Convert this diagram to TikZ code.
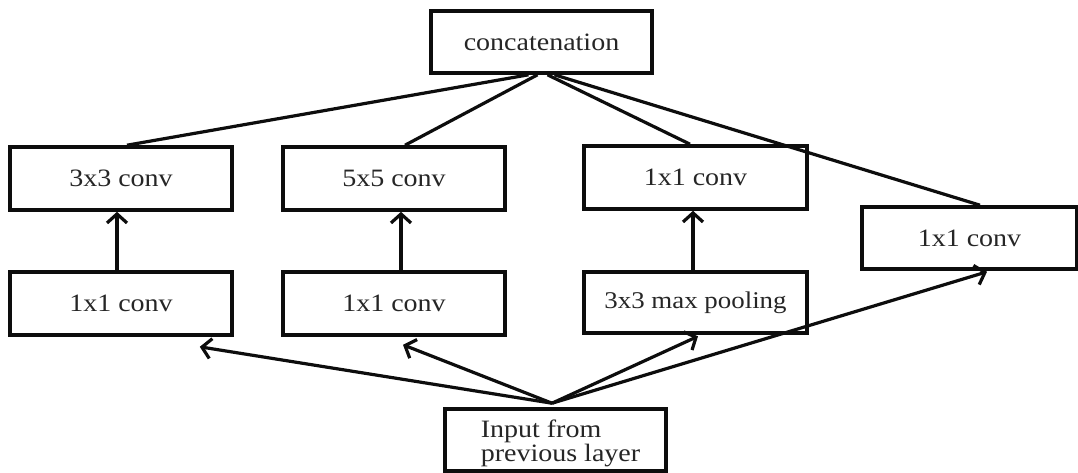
\documentclass[tikz,border=0pt]{standalone}
\usepackage{fontspec}
\setmainfont[FakeStretch=1.12]{Liberation Serif}
\usetikzlibrary{arrows.meta}
\definecolor{ink}{gray}{0.05}
\definecolor{txt}{gray}{0.15}
\tikzset{
  x=1pt, y=-1pt,
  blk/.style={draw=ink, line width=3.6pt, fill=white, inner sep=0pt,
    minimum width=222pt, minimum height=63pt,
    font=\fontsize{25}{22}\selectfont, text=txt},
  link/.style={draw=ink, line width=3.2pt},
  flow/.style={link, -{Straight Barb[length=9pt,width=20pt,line width=3.2pt]}},
}
\begin{document}
\begin{tikzpicture}
\useasboundingbox[fill=white] (0,0) rectangle (1078,472);

% boxes
\node[blk, minimum width=221pt, minimum height=62pt] (concat) at (541.5,42) {concatenation};
\node[blk] (c33) at (121,178.5) {3x3 conv};
\node[blk] (c55) at (394,178.5) {5x5 conv};
\node[blk, minimum width=223pt] (c11a) at (695.5,177.5) {1x1 conv};
\node[blk, minimum width=215pt, minimum height=62pt] (c11r) at (969.5,238) {1x1 conv};
\node[blk] (r1) at (121,303.5) {1x1 conv};
\node[blk] (r2) at (394,303.5) {1x1 conv};
\node[blk, minimum width=223pt, minimum height=61pt, font=\fontsize{24}{22}\selectfont] (mp) at (695.5,302.5) {3x3 max pooling};
\node[blk, minimum width=221pt, minimum height=62pt, align=left] (input) at (555.5,440)
  {\hspace*{10pt}\rule{0pt}{24pt}Input from\\\hspace*{10pt}previous layer};

% branch outputs joined at the top
\draw[link] ([xshift=-13pt]concat.south) -- ([xshift=6pt]c33.north);
\draw[link] ([xshift=-4pt]concat.south) -- ([xshift=11pt]c55.north);
\draw[link] ([xshift=6pt]concat.south) -- ([xshift=-5.5pt]c11a.north);
\draw[link] ([xshift=13pt]concat.south) -- ([xshift=10.5pt]c11r.north);

% second-stage arrows
\draw[flow] ([xshift=-4pt]r1.north) -- ([xshift=-4pt]c33.south);
\draw[flow] ([xshift=7pt]r2.north) -- ([xshift=7pt]c55.south);
\draw[flow] ([xshift=-2.5pt]mp.north) -- ([xshift=-2.5pt]c11a.south);

% input fan-out
\coordinate (src) at ([shift={(-3.5,-4)}]input.north);
\coordinate (t1) at ([shift={(-34,10)}]r1.south east);
\coordinate (t2) at ([shift={(9,8)}]r2.south);
\coordinate (t3) at ([shift={(2.5,1.5)}]mp.south);
\coordinate (t4) at ([shift={(17.5,1)}]c11r.south);
\draw[flow] (src) -- (t1);
\draw[flow] (src) -- (t2);
\draw[flow] (src) -- (t3);
\draw[flow] (src) -- (t4);
\end{tikzpicture}
\end{document}
